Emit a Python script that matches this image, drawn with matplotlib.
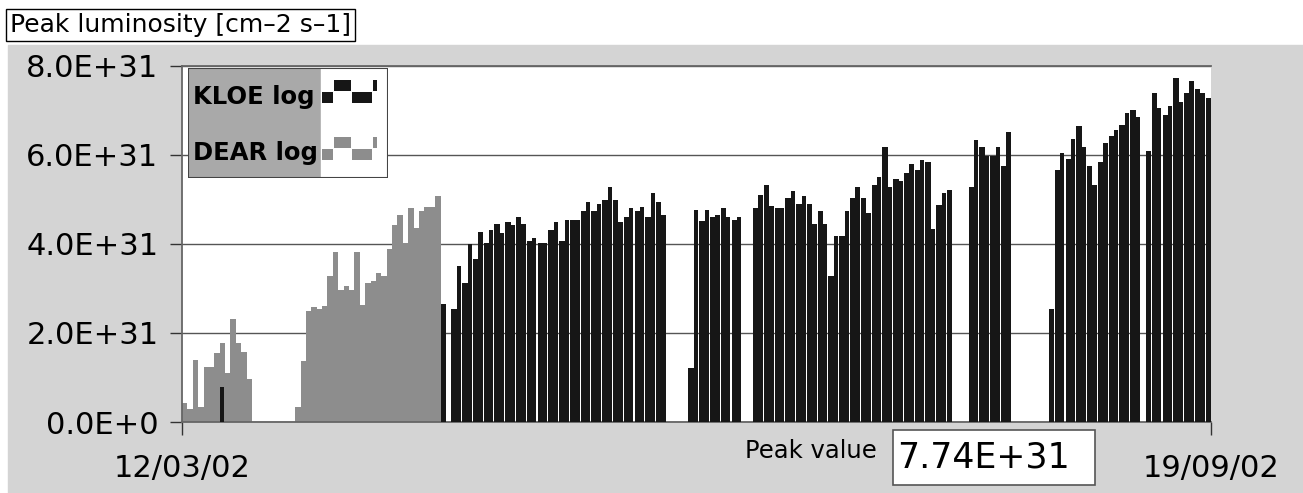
import numpy as np
import pandas as pd
import matplotlib.pyplot as plt
from matplotlib.patches import Rectangle

START = "2002-03-12"
END = "2002-09-19"

# daily peak luminosity in units of 1E31 cm-2 s-1; each run starts on the given date
kloe_mar = [0.79]
kloe_apr = [2.65]
kloe_may = [2.55, 3.51, 3.12, 4.01, 3.66, 4.28, 4.03, 4.31, 4.46, 4.24,
            4.50, 4.43, 4.61, 4.46, 4.07, 4.13, 4.03, 4.03, 4.31, 4.50,
            4.07, 4.55, 4.55, 4.55, 4.75, 4.94, 4.75, 4.89, 4.99, 5.27,
            4.99, 4.50, 4.61, 4.80, 4.75, 4.84, 4.61, 5.14, 4.94, 4.65]
kloe_jun = [1.21, 4.76, 4.52, 4.76, 4.60, 4.65, 4.80, 4.60, 4.55, 4.61]
kloe_jul = [4.80, 5.09, 5.33, 4.85, 4.80, 4.80, 5.03, 5.18, 4.90, 5.08,
            4.90, 4.46, 4.75, 4.46, 3.27, 4.18, 4.18, 4.75, 5.03, 5.27,
            5.03, 4.70, 5.33, 5.51, 6.19, 5.27, 5.45, 5.42, 5.60, 5.80,
            5.66, 5.89, 5.85, 4.33, 4.88, 5.14, 5.21]
kloe_aug1 = [5.27, 6.34, 6.17, 5.98, 5.98, 6.17, 5.75, 6.52]
kloe_aug2 = [2.55, 5.66, 6.04, 5.90, 6.37, 6.66, 6.17, 5.75, 5.33, 5.85,
             6.28, 6.43, 6.56, 6.67, 6.95, 7.00, 6.86]
kloe_sep = [6.10, 7.39, 7.05, 6.90, 7.09, 7.74, 7.20, 7.39, 7.67, 7.48, 7.39, 7.27]

dear_mar = [0.43, 0.29, 1.39, 0.34, 1.24, 1.24, 1.54, 1.77, 1.10, 2.31, 1.77, 1.58, 0.96]
dear_apr = [0.34, 1.36, 2.50, 2.59, 2.55, 2.60, 3.27, 3.83, 2.97, 3.06,
            2.97, 3.83, 2.63, 3.12, 3.17, 3.34, 3.27, 3.88, 4.43, 4.65,
            4.02, 4.80, 4.35, 4.75, 4.84, 4.84, 5.08]

kloe_runs = [("2002-03-19", kloe_mar), ("2002-04-29", kloe_apr), ("2002-05-01", kloe_may),
             ("2002-06-14", kloe_jun), ("2002-06-26", kloe_jul), ("2002-08-05", kloe_aug1),
             ("2002-08-20", kloe_aug2), ("2002-09-07", kloe_sep)]
dear_runs = [("2002-03-12", dear_mar), ("2002-04-02", dear_apr)]

y_ticks = [0, 2, 4, 6, 8]
y_labels = ["0.0E+0", "2.0E+31", "4.0E+31", "6.0E+31", "8.0E+31"]

# legend swatch: low/high step pattern
legend_steps = [0, 1, 0, 1]
legend_step_w = [11, 17, 20, 4]

KLOE_COLOR = "#161616"
DEAR_COLOR = "#8d8d8d"
W, H = 1303, 493


def day_of(date):
    return (pd.Timestamp(date) - pd.Timestamp(START)).days


fig = plt.figure(figsize=(W / 100, H / 100), dpi=100)
fig.patches.append(Rectangle((8 / W, 0), 1, 1 - 45 / H, transform=fig.transFigure,
                             color="#d4d4d4", zorder=-10))

ax = fig.add_axes([182 / W, 1 - 422 / H, (1211 - 182) / W, (422 - 66) / H])
ax.set_facecolor("white")

for start, vals in dear_runs:
    days = day_of(start) + np.arange(len(vals))
    ax.bar(days, vals, width=1.0, align="edge", color=DEAR_COLOR, linewidth=0, zorder=2)

for start, vals in kloe_runs:
    days = day_of(start) + np.arange(len(vals))
    widths = np.where(days % 2 == 1, 0.8, 1.0)
    ax.bar(days, vals, width=widths, align="edge", color=KLOE_COLOR, linewidth=0, zorder=3)

n_days = day_of(END)
ax.set_xlim(0, n_days)
ax.set_ylim(0, 8)
ax.set_yticks(y_ticks)
ax.set_yticklabels(y_labels, fontsize=22)
ax.set_xticks([0, n_days])
ax.set_xticklabels([pd.Timestamp(START).strftime("%d/%m/%y"),
                    pd.Timestamp(END).strftime("%d/%m/%y")], fontsize=22)
ax.tick_params(axis="y", length=9, width=1, color="#333", pad=8)
ax.tick_params(axis="x", length=9, width=1, color="#333", pad=14)
ax.grid(axis="y", color="#555", linewidth=1)
ax.grid(axis="x", visible=False)
ax.set_axisbelow(True)
for side in ["left", "top", "bottom"]:
    ax.spines[side].set_color("#666")
    ax.spines[side].set_linewidth(1.3)
ax.spines["right"].set_visible(False)

# legend box
lax = fig.add_axes([188 / W, 1 - 178 / H, 200 / W, 110 / H])
lax.set_xlim(0, 200)
lax.set_ylim(0, 110)
lax.axis("off")
lax.add_patch(Rectangle((0, 0), 133, 110, color="#a9a9a9"))
lax.add_patch(Rectangle((133, 0), 67, 110, color="white"))
lax.add_patch(Rectangle((0, 0), 200, 110, fill=False, edgecolor="#444", linewidth=1.5))
lax.text(5, 81, "KLOE log", fontsize=17.5, fontweight="bold", va="center")
lax.text(5, 25, "DEAR log", fontsize=17.5, fontweight="bold", va="center")
for base, color in [(75, KLOE_COLOR), (18, DEAR_COLOR)]:
    x = 134
    for lvl, w in zip(legend_steps, legend_step_w):
        lax.bar(x, 11, width=w, bottom=base + 12 * lvl, align="edge", color=color, linewidth=0)
        x += w + 1

# title box
fig.text(10 / W, 1 - 25 / H, "Peak luminosity [cm\u20132 s\u20131]", fontsize=18, va="center",
         bbox=dict(boxstyle="square,pad=0.15", fc="white", ec="black", lw=1))

# peak value indicator
peak = max(max(v) for _, v in kloe_runs)
fig.text(745 / W, 1 - 451 / H, "Peak value", fontsize=17.5, va="center")
fig.patches.append(Rectangle((893 / W, 1 - 485 / H), 202 / W, 55 / H, transform=fig.transFigure,
                             facecolor="white", edgecolor="#555", linewidth=1.2, zorder=1))
fig.text(897 / W, 1 - 458 / H, f"{peak:.2f}E+31", fontsize=25, va="center")

fig.savefig("out.png", dpi=100)
